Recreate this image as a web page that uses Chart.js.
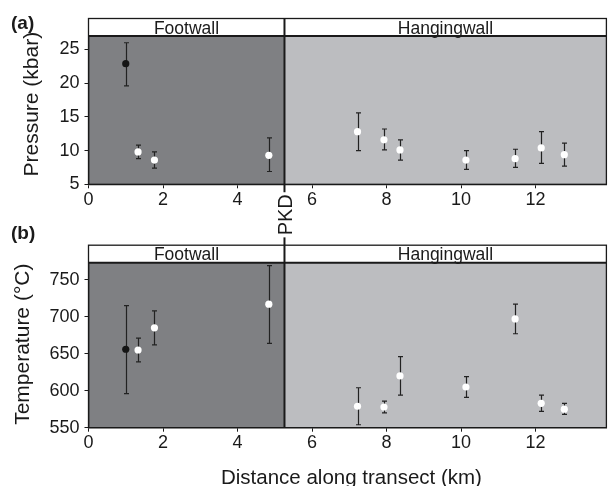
<!DOCTYPE html>
<html>
<head>
<meta charset="utf-8">
<script src="https://cdn.jsdelivr.net/npm/chart.js@4.4.1/dist/chart.umd.min.js"></script>
<style>
  html, body { margin: 0; padding: 0; background: #fff; }
  #wrap { position: relative; width: 610px; height: 486px; overflow: hidden; }
  #wrap canvas { position: absolute; left: 0; }
</style>
</head>
<body>
<div id="wrap">
  <canvas id="chartA" width="610" height="250" style="top:0"></canvas>
  <canvas id="chartB" width="610" height="264" style="top:222px"></canvas>
</div>
<script>
// Data
const distance = [1.00, 1.33, 1.77, 4.84, 7.22, 7.93, 8.36, 10.13, 11.45, 12.15, 12.77];

const pressure     = [22.9, 9.8, 8.6, 9.3, 12.8, 11.6, 10.1, 8.6, 8.8, 10.4, 9.4];
const pressureLow  = [19.6, 8.8, 7.4, 6.9, 10.0, 10.1, 8.6, 7.2, 7.5, 8.1, 7.7];
const pressureHigh = [26.0, 10.8, 9.8, 11.9, 15.6, 13.2, 11.6, 10.0, 10.2, 12.8, 11.1];

const temperature     = [656, 655, 685, 717, 579, 578, 620, 605, 697, 583, 575];
const temperatureLow  = [596, 639, 662, 664, 554, 570, 594, 591, 677, 572, 568];
const temperatureHigh = [715, 671, 708, 769, 604, 586, 646, 619, 717, 594, 583];

const distanceTicks = [0, 2, 4, 6, 8, 10, 12];
const pressureTicks = [5, 10, 15, 20, 25];
const temperatureTicks = [550, 600, 650, 700, 750];

const zones = ['Footwall', 'Hangingwall'];
const pkdDistance = 5.26;

const FONT = '"Liberation Sans", Arial, Helvetica, sans-serif';
const INK = '#1a1a1a';
const DARK = '#7f8083';
const LIGHT = '#bcbdc0';

// background zones, error bars, header strip, PKD line and labels
function panelPlugin(cfg) {
  return {
    id: 'panel',
    beforeDraw(chart) {
      const { ctx, chartArea: a, scales: { x } } = chart;
      const px = x.getPixelForValue(pkdDistance);
      ctx.save();
      ctx.fillStyle = DARK;
      ctx.fillRect(a.left, a.top, px - a.left, a.bottom - a.top);
      ctx.fillStyle = LIGHT;
      ctx.fillRect(px, a.top, a.right - px, a.bottom - a.top);
      ctx.restore();
    },
    beforeDatasetsDraw(chart) {
      const { ctx, scales: { x, y } } = chart;
      ctx.save();
      ctx.strokeStyle = '#222';
      ctx.lineWidth = 1.2;
      cfg.low.forEach((lo, i) => {
        const px = Math.round(x.getPixelForValue(distance[i])) + 0.5;
        const y1 = y.getPixelForValue(lo);
        const y2 = y.getPixelForValue(cfg.high[i]);
        ctx.beginPath();
        ctx.moveTo(px, y1); ctx.lineTo(px, y2);
        ctx.moveTo(px - 2.5, y1); ctx.lineTo(px + 2.5, y1);
        ctx.moveTo(px - 2.5, y2); ctx.lineTo(px + 2.5, y2);
        ctx.stroke();
      });
      ctx.restore();
    },
    afterDraw(chart) {
      const { ctx, chartArea: a, scales: { x } } = chart;
      const px = x.getPixelForValue(pkdDistance);
      const hTop = a.top - 17.5;
      ctx.save();

      // header strip + frame
      ctx.fillStyle = '#fff';
      ctx.fillRect(a.left, hTop, a.right - a.left, a.top - hTop);
      ctx.strokeStyle = INK;
      ctx.lineWidth = 1.3;
      ctx.strokeRect(a.left, hTop, a.right - a.left, a.bottom - hTop);
      ctx.lineWidth = 2;
      ctx.beginPath(); ctx.moveTo(a.left, a.top); ctx.lineTo(a.right, a.top); ctx.stroke();

      ctx.fillStyle = INK;
      ctx.font = '17.5px ' + FONT;
      ctx.textAlign = 'center';
      ctx.textBaseline = 'alphabetic';
      ctx.fillText(zones[0], (a.left + px) / 2, a.top - 2.5);
      ctx.fillText(zones[1], (px + a.right) / 2, a.top - 2.5);

      // PKD boundary
      ctx.lineWidth = 2;
      ctx.beginPath();
      ctx.moveTo(px, hTop);
      ctx.lineTo(px, cfg.pkdLabel ? chart.height : a.bottom);
      ctx.stroke();

      if (cfg.pkdLabel) {
        ctx.save();
        ctx.translate(px, a.bottom + 30.5);
        ctx.rotate(-Math.PI / 2);
        ctx.font = '20px ' + FONT;
        const w = ctx.measureText('PKD').width;
        ctx.fillStyle = '#fff';
        ctx.fillRect(-w / 2 - 2, -8, w + 4, 16);
        ctx.fillStyle = INK;
        ctx.fillText('PKD', 0, 8);
        ctx.restore();
      }

      // panel tag
      ctx.font = 'bold 19px ' + FONT;
      ctx.textAlign = 'left';
      ctx.fillText(cfg.tag, 11, cfg.tagY);

      // y title
      ctx.save();
      ctx.translate(cfg.yTitleX, (a.top + a.bottom) / 2 + cfg.yTitleShift);
      ctx.rotate(-Math.PI / 2);
      ctx.font = '21px ' + FONT;
      ctx.textAlign = 'center';
      ctx.fillText(cfg.yTitle, 0, 0);
      ctx.restore();

      // x title
      if (cfg.xTitle) {
        ctx.font = '20.5px ' + FONT;
        ctx.textAlign = 'center';
        ctx.fillText(cfg.xTitle, (a.left + a.right) / 2 + 4, a.bottom + 55.8);
      }
      ctx.restore();
    }
  };
}

function makeChart(id, cfg) {
  new Chart(document.getElementById(id), {
    type: 'scatter',
    data: {
      datasets: [{
        data: cfg.values.map((v, i) => ({ x: distance[i], y: v })),
        pointRadius: 3.6,
        pointHoverRadius: 3.6,
        pointBorderWidth: 0,
        pointBackgroundColor: c => c.dataIndex === 0 ? '#151515' : '#ffffff'
      }]
    },
    options: {
      responsive: false,
      animation: false,
      events: [],
      layout: { padding: { left: 0, right: 2, top: cfg.top, bottom: 0 } },
      plugins: { legend: { display: false }, tooltip: { enabled: false } },
      scales: {
        x: {
          type: 'linear', min: 0, max: 13.9,
          afterBuildTicks: s => { s.ticks = distanceTicks.map(v => ({ value: v })); },
          afterFit: s => { s.height = cfg.xHeight; },
          grid: { drawOnChartArea: false, drawTicks: true, tickLength: 4, color: INK },
          border: { display: true, color: INK, width: 1.3 },
          ticks: { color: INK, font: { family: FONT, size: 18 }, padding: 1, autoSkip: false, maxRotation: 0 }
        },
        y: {
          type: 'linear', min: cfg.yMin, max: cfg.yMax,
          afterBuildTicks: s => { s.ticks = cfg.ticks.map(v => ({ value: v })); },
          afterFit: s => { s.width = 88.5; },
          grid: { drawOnChartArea: false, drawTicks: true, tickLength: 4, color: INK },
          border: { display: true, color: INK, width: 1.3 },
          ticks: { color: INK, font: { family: FONT, size: 18 }, padding: 5 }
        }
      }
    },
    plugins: [panelPlugin(cfg)]
  });
}

makeChart('chartA', {
  values: pressure, low: pressureLow, high: pressureHigh,
  ticks: pressureTicks, yMin: 5, yMax: 27,
  top: 36, xHeight: 250 - 184.3,
  tag: '(a)', tagY: 29, yTitle: 'Pressure (kbar)', yTitleX: 38, yTitleShift: -6,
  pkdLabel: true
});

makeChart('chartB', {
  values: temperature, low: temperatureLow, high: temperatureHigh,
  ticks: temperatureTicks, yMin: 550, yMax: 773,
  top: 40.7, xHeight: 264 - 205.7,
  tag: '(b)', tagY: 17, yTitle: 'Temperature (°C)', yTitleX: 29, yTitleShift: -1,
  xTitle: 'Distance along transect (km)'
});
</script>
</body>
</html>
